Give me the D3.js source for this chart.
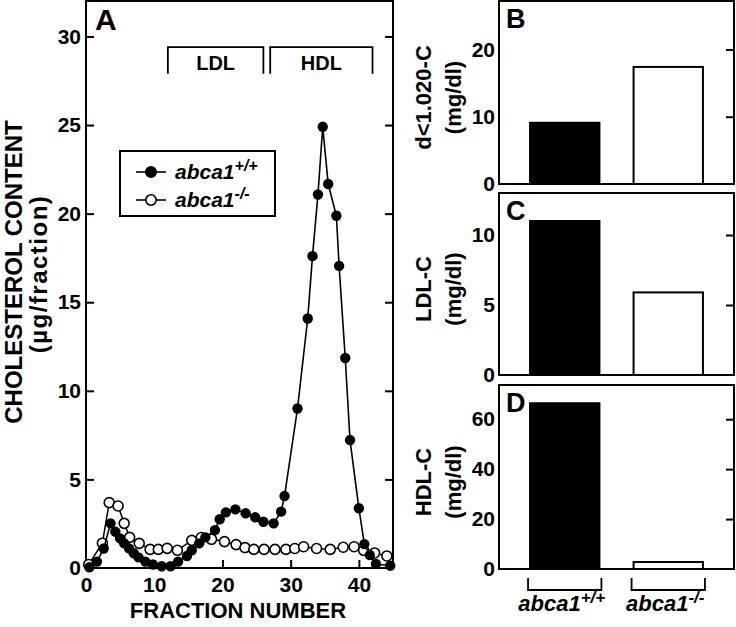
<!DOCTYPE html>
<html><head><meta charset="utf-8">
<script src="https://cdn.jsdelivr.net/npm/d3@7"></script>
<style>
body{margin:0;background:#fff}
svg{display:block}
text{font-family:"Liberation Sans",Arial,Helvetica,sans-serif;font-weight:bold;fill:#000}
</style>
</head><body>
<svg id="chart" width="736" height="627"></svg>
<script>
// ---- Panel A data (fraction number, cholesterol µg/fraction) ----
const wtFraction = [0.5,1.6,2.6,3.6,4.3,5.0,5.6,6.3,7.0,7.7,8.7,9.8,11.1,12.4,13.5,14.8,15.5,16.6,17.5,18.9,19.6,20.5,21.9,23.4,24.8,26.0,27.5,28.6,29.1,31.0,32.5,33.2,34.0,34.7,35.5,36.7,37.1,38.0,38.7,40.0,40.8,41.6,42.5,44.6];
const wtChol     = [0.04,0.36,1.1,2.52,2.05,1.67,1.39,1.11,0.83,0.6,0.36,0.2,0.1,0.1,0.36,0.68,1.0,1.39,1.73,2.14,2.75,3.14,3.31,3.09,2.86,2.61,2.52,3.18,4.06,9.0,14.08,17.6,21.08,24.9,21.67,19.88,17.05,11.85,7.22,3.37,1.35,0.73,0.23,0.13];
const koFraction = [0.4,2.4,3.4,4.7,5.6,6.4,7.8,9.4,10.6,11.9,13.4,15.5,16.9,18.4,20.3,22.0,23.3,24.6,26.1,27.7,29.3,30.6,31.9,33.8,35.8,37.7,39.3,40.7,42.3,44.1];
const koChol     = [0.2,1.4,3.69,3.5,2.52,1.73,1.39,1.05,1.05,1.11,1.0,1.56,1.72,1.62,1.49,1.32,1.15,1.05,1.05,1.05,1.05,1.1,1.2,1.1,1.05,1.17,1.2,1.0,0.85,0.68];
const xTicksA = [0,10,20,30,40];
const yTicksA = [0,5,10,15,20,25,30];
const bandLabels = ["LDL","HDL"];
const bandFrom = [12,27];
const bandTo = [26,42];

// ---- Panels B-D data (mg/dl) ----
const genotypes = ["+/+","-/-"];
const vldlC = [9.1,17.4];
const ldlC = [11.0,5.9];
const hdlC = [66.4,2.8];
const yTicksB = [0,10,20];
const yTicksC = [0,5,10];
const yTicksD = [0,20,40,60];

const svg = d3.select("#chart");

// ================= Panel A =================
const x = d3.scaleLinear().domain([0,45]).range([86,393]);
const y = d3.scaleLinear().domain([0,32]).range([568,1]);

const gA = svg.append("g");

const bottomAx = gA.append("g").attr("transform","translate(0,568)")
  .call(d3.axisBottom(x).tickValues(xTicksA).tickSizeInner(-8).tickSizeOuter(0).tickPadding(9));
const leftAx = gA.append("g").attr("transform","translate(86,0)")
  .call(d3.axisLeft(y).tickValues(yTicksA).tickSizeInner(-8).tickSizeOuter(0).tickPadding(5));
const rightAx = gA.append("g").attr("transform","translate(393,0)")
  .call(d3.axisRight(y).tickValues(yTicksA.slice(1)).tickSizeInner(-8).tickSizeOuter(0).tickFormat(""));
[bottomAx,leftAx,rightAx].forEach(a=>{
  a.select(".domain").remove();
  a.selectAll("line").attr("stroke","#000").attr("stroke-width",2);
  a.selectAll("text").style("font-size","21px").attr("fill","#000");
});

gA.append("rect").attr("x",x(0)).attr("y",y(32)).attr("width",x(45)-x(0)).attr("height",y(0)-y(32))
  .attr("fill","none").attr("stroke","#000").attr("stroke-width",2);

bandLabels.forEach((lab,i)=>{
  const x0=x(bandFrom[i]), x1=x(bandTo[i]), yt=y(29.4), yb=y(27.9);
  gA.append("path").attr("d",`M${x0},${yb}V${yt}H${x1}V${yb}`)
    .attr("fill","none").attr("stroke","#000").attr("stroke-width",1.8);
  gA.append("text").attr("x",(x0+x1)/2).attr("y",y(28.1)).attr("text-anchor","middle")
    .style("font-size","20px").text(lab);
});

const lineGen = d3.line().x(d=>x(d[0])).y(d=>y(d[1]));
const koPts = koFraction.map((f,i)=>[f,koChol[i]]);
const wtPts = wtFraction.map((f,i)=>[f,wtChol[i]]);
gA.append("path").datum(koPts).attr("d",lineGen).attr("fill","none").attr("stroke","#000").attr("stroke-width",1.5);
gA.selectAll("circle.ko").data(koPts).join("circle").attr("class","ko")
  .attr("cx",d=>x(d[0])).attr("cy",d=>y(d[1])).attr("r",5)
  .attr("fill","#fff").attr("stroke","#000").attr("stroke-width",1.6);
gA.append("path").datum(wtPts).attr("d",lineGen).attr("fill","none").attr("stroke","#000").attr("stroke-width",1.6);
gA.selectAll("circle.wt").data(wtPts).join("circle").attr("class","wt")
  .attr("cx",d=>x(d[0])).attr("cy",d=>y(d[1])).attr("r",5.2).attr("fill","#000");

gA.append("text").attr("x",95).attr("y",30).style("font-size","30px").text("A");

const leg = gA.append("g");
leg.append("rect").attr("x",120).attr("y",151).attr("width",155).attr("height",65)
  .attr("fill","#fff").attr("stroke","#000").attr("stroke-width",2);
const legRows = [{y:172,fill:"#000",sup:"+/+"},{y:200,fill:"#fff",sup:"-/-"}];
legRows.forEach(r=>{
  leg.append("line").attr("x1",136).attr("x2",166).attr("y1",r.y).attr("y2",r.y).attr("stroke","#000").attr("stroke-width",1.6);
  leg.append("circle").attr("cx",151).attr("cy",r.y).attr("r",5.2).attr("fill",r.fill).attr("stroke","#000").attr("stroke-width",1.6);
  const t = leg.append("text").attr("x",175).attr("y",r.y+7).style("font-size","21px").style("font-style","italic");
  t.append("tspan").text("abca1");
  t.append("tspan").attr("dy",-8).style("font-size","16px").text(r.sup);
});

svg.append("text").attr("x",238).attr("y",618).attr("text-anchor","middle").style("font-size","22px").text("FRACTION NUMBER");
svg.append("text").attr("transform","translate(14,272) rotate(-90)").attr("dy","0.35em").attr("text-anchor","middle")
  .style("font-size","24px").text("CHOLESTEROL CONTENT");
svg.append("text").attr("transform","translate(39,274) rotate(-90)").attr("dy","0.35em").attr("text-anchor","middle")
  .style("font-size","24px").style("letter-spacing","1.5px").text("(µg/fraction)");

// ================= Panels B, C, D =================
const xb = d3.scaleBand().domain(genotypes).range([499,734]).paddingInner(0.33).paddingOuter(0.3);
const panels = [
  {vals:vldlC, top:1, bottom:184, max:27.2, ticks:yTicksB, letter:"B", title:"d<1.020-C"},
  {vals:ldlC, top:193, bottom:375, max:13, ticks:yTicksC, letter:"C", title:"LDL-C"},
  {vals:hdlC, top:385, bottom:569, max:73.7, ticks:yTicksD, letter:"D", title:"HDL-C"}
];
panels.forEach(p=>{
  const yy = d3.scaleLinear().domain([0,p.max]).range([p.bottom,p.top]);
  const g = svg.append("g");
  g.selectAll("rect.bar").data(p.vals).join("rect").attr("class","bar")
    .attr("x",(d,i)=>xb(genotypes[i])).attr("width",xb.bandwidth())
    .attr("y",d=>yy(d)).attr("height",d=>yy(0)-yy(d))
    .attr("fill",(d,i)=>i===0?"#000":"#fff").attr("stroke","#000").attr("stroke-width",2);
  const la = g.append("g").attr("transform","translate(499,0)")
    .call(d3.axisLeft(yy).tickValues(p.ticks).tickSize(0).tickPadding(4));
  const ra = g.append("g").attr("transform","translate(734,0)")
    .call(d3.axisRight(yy).tickValues(p.ticks.slice(1)).tickSizeInner(-8).tickSizeOuter(0).tickFormat(""));
  [la,ra].forEach(a=>{
    a.select(".domain").remove();
    a.selectAll("line").attr("stroke","#000").attr("stroke-width",2);
    a.selectAll("text").style("font-size","21px").attr("fill","#000");
  });
  g.append("rect").attr("x",499).attr("y",p.top).attr("width",235).attr("height",p.bottom-p.top)
    .attr("fill","none").attr("stroke","#000").attr("stroke-width",2);
  g.append("text").attr("x",506).attr("y",p.top+27).style("font-size","27px").text(p.letter);
  const cy = (p.top+p.bottom)/2 + 5;
  g.append("text").attr("transform",`translate(423,${cy}) rotate(-90)`).attr("dy","0.35em").attr("text-anchor","middle")
    .style("font-size","22px").text(p.title);
  g.append("text").attr("transform",`translate(453,${cy}) rotate(-90)`).attr("dy","0.35em").attr("text-anchor","middle")
    .style("font-size","22px").text("(mg/dl)");
});

genotypes.forEach(gt=>{
  const x0 = xb(gt)-2, x1 = xb(gt)+xb.bandwidth()+2;
  svg.append("path").attr("d",`M${x0},578V590H${x1}V578`).attr("fill","none").attr("stroke","#000").attr("stroke-width",1.8);
  const t = svg.append("text").attr("x",(x0+x1)/2 - 3).attr("y",611).attr("text-anchor","middle")
    .style("font-size","22px").style("font-style","italic");
  t.append("tspan").text("abca1");
  t.append("tspan").attr("dy",-8).style("font-size","17px").text(gt);
});
</script>
</body></html>
